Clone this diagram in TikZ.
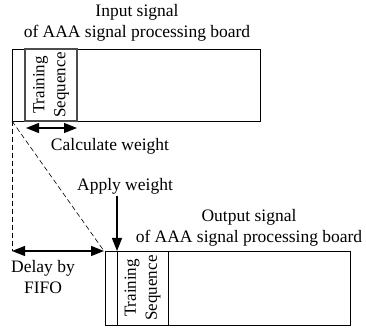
\documentclass[tikz,border=0pt]{standalone}
\usepackage{fontspec}
\setmainfont{Liberation Serif}
\usetikzlibrary{arrows.meta}
\begin{document}
\begin{tikzpicture}[x=1pt,y=-1pt,
  lbl/.style={inner sep=0pt,align=center,font=\fontsize{17.5}{21}\selectfont},
  tslbl/.style={inner sep=0pt,align=center,rotate=90,font=\fontsize{17}{21}\selectfont},
  frame/.style={draw=black,line width=0.8pt},
  tsline/.style={draw=black!70,line width=1.3pt},
  arr/.style={line width=1.2pt,-{Triangle[length=13pt,width=10pt]}},
  darr/.style={line width=1.4pt,{Triangle[length=13pt,width=10pt]}-{Triangle[length=13pt,width=10pt]}},
  dsh/.style={line width=0.6pt,dash pattern=on 5pt off 3pt}]
\useasboundingbox (0,0) rectangle (366,328);
% top box
\draw[frame] (12,49) rectangle (260,121);
\draw[tsline] (25,49) rectangle (77,121);
\node[tslbl] (ts1) at (51,85) {Training\\Sequence};
\coordinate (tl) at (12,121);
\node[lbl] (in1) at (137,23) {Input signal\\of AAA signal processing board};
% calculate weight arrow
\coordinate (cw1) at (26,128);
\coordinate (cw2) at (77,128);
\draw[darr] (cw1) -- (cw2);
\node[lbl] (cw) at (110,146) {Calculate weight};
% bottom box
\draw[frame] (105,251) rectangle (350,325);
\draw[frame] (117,251) -- (117,325);
\draw[frame] (168,251) -- (168,325);
\node[tslbl] (ts2) at (142.5,288) {Training\\Sequence};
\node[lbl] (out1) at (249,228) {Output signal\\of AAA signal processing board};
% dashed lines
\coordinate (bl) at (12,251);
\coordinate (br) at (104,251);
\draw[dsh] (tl) -- (bl);
\draw[dsh] (tl) -- (br);
% delay arrow
\draw[darr] (bl) -- (br);
\node[lbl] (dly) at (43,277) {Delay by\\FIFO};
% apply weight
\node[lbl] (aw) at (125,186) {Apply weight};
\coordinate (aw1) at (117,196);
\coordinate (aw2) at (117,251);
\draw[arr] (aw1) -- (aw2);
\end{tikzpicture}
\end{document}
